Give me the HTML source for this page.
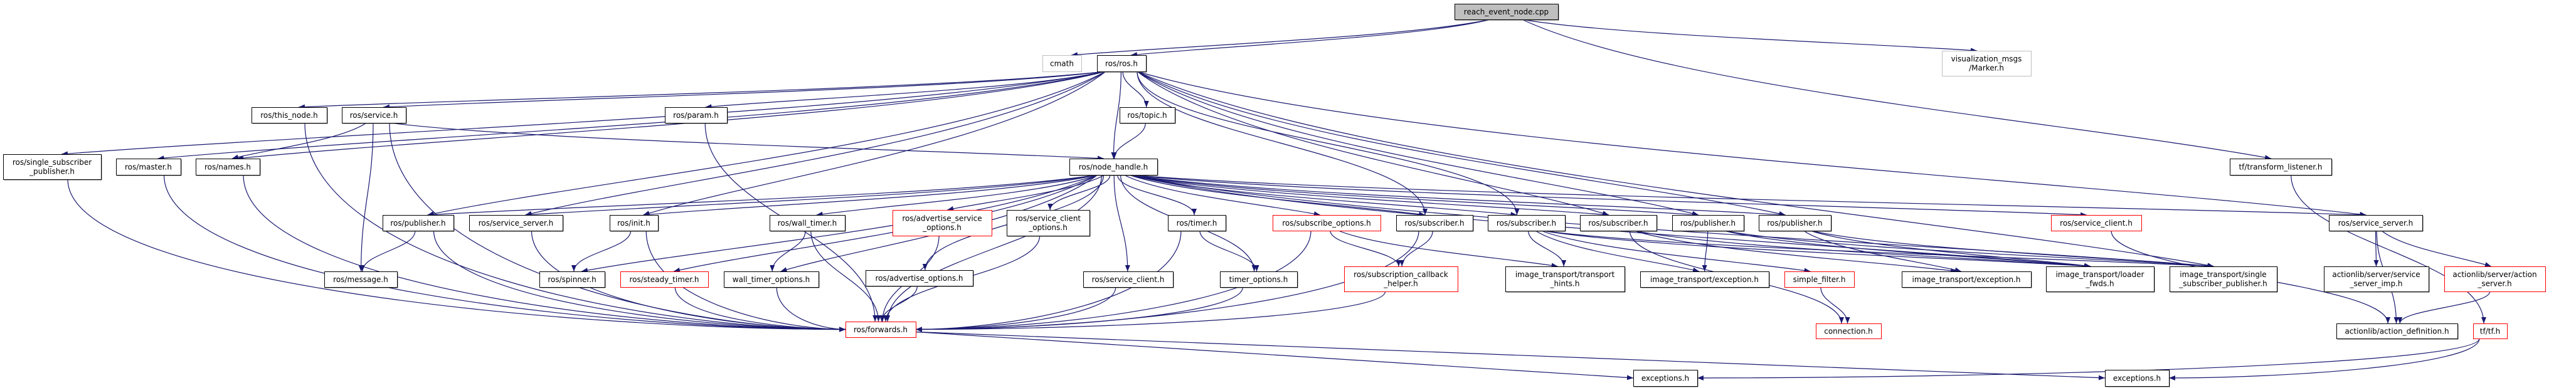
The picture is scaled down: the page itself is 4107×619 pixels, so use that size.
<!DOCTYPE html>
<html><head><meta charset="utf-8">
<style>
html,body{margin:0;padding:0;background:#fff;}
svg{display:block;}
text{font-family:"DejaVu Sans","Liberation Sans",sans-serif;font-size:12px;fill:#000;}
</style></head>
<body>
<svg id="g" xmlns="http://www.w3.org/2000/svg" width="4107" height="619" viewBox="0 0 4107 619">
<defs>
<marker id="a" markerUnits="userSpaceOnUse" markerWidth="11" markerHeight="9" refX="10" refY="4" orient="auto">
<path d="M0,0 L10,4 L0,8 z" fill="#191970"/>
</marker>
</defs>
<g id="edges"></g>
<g id="nodes"></g>
</svg>
<script>
var N={
cpp:[2319,2484,6,31,"reach_event_node.cpp","f"],
cmath:[1662,1724,88,114,"cmath","g"],
ros:[1749,1827,88,114,"ros/ros.h"],
marker:[3096,3238,81,121,"visualization_msgs|/Marker.h","g"],
tfl:[3555,3717,253,279,"tf/transform_listener.h"],
ssp:[5,161,246,286,"ros/single_subscriber|_publisher.h"],
master:[185,288,253,279,"ros/master.h"],
names:[312,414,253,279,"ros/names.h"],
thisnode:[401,521,171,196,"ros/this_node.h"],
service:[545,647,171,196,"ros/service.h"],
param:[1060,1159,171,196,"ros/param.h"],
topic:[1785,1873,171,196,"ros/topic.h"],
nh:[1705,1845,253,279,"ros/node_handle.h"],
pub1:[610,723,343,368,"ros/publisher.h"],
ss1:[748,897,343,368,"ros/service_server.h"],
init:[972,1049,343,368,"ros/init.h"],
wt:[1227,1347,343,368,"ros/wall_timer.h"],
aso:[1423,1581,335,376,"ros/advertise_service|_options.h","r"],
sco:[1605,1737,335,376,"ros/service_client|_options.h"],
timer:[1862,1954,343,368,"ros/timer.h"],
subo:[2029,2201,343,368,"ros/subscribe_options.h","r"],
sub1:[2226,2348,343,368,"ros/subscriber.h"],
sub2:[2372,2495,343,368,"ros/subscriber.h"],
sub3:[2519,2641,343,368,"ros/subscriber.h"],
pub2:[2666,2780,343,368,"ros/publisher.h"],
pub3:[2804,2919,343,368,"ros/publisher.h"],
sc2:[3270,3414,343,368,"ros/service_client.h","r"],
ss2:[3713,3862,343,368,"ros/service_server.h"],
msg:[517,633,433,458,"ros/message.h"],
spin:[860,964,433,458,"ros/spinner.h"],
steady:[989,1129,433,458,"ros/steady_timer.h","r"],
wto:[1154,1305,433,458,"wall_timer_options.h"],
ao:[1380,1551,431,456,"ros/advertise_options.h"],
sc1:[1727,1870,433,458,"ros/service_client.h"],
to:[1945,2068,433,458,"timer_options.h"],
sch:[2143,2324,425,465,"ros/subscription_callback|_helper.h","r"],
th:[2400,2590,425,465,"image_transport/transport|_hints.h"],
ite1:[2615,2820,433,458,"image_transport/exception.h"],
sf:[2845,2956,433,458,"simple_filter.h","r"],
ite2:[3032,3238,433,458,"image_transport/exception.h"],
lf:[3262,3434,425,465,"image_transport/loader|_fwds.h"],
sspi:[3459,3630,425,465,"image_transport/single|_subscriber_publisher.h"],
ssimp:[3705,3872,425,465,"actionlib/server/service|_server_imp.h"],
as:[3897,4058,425,465,"actionlib/server/action|_server.h","r"],
fwd:[1348,1460,513,538,"ros/forwards.h","r"],
conn:[2895,2999,516,540,"connection.h","r"],
ad:[3725,3918,516,540,"actionlib/action_definition.h"],
tf:[3943,3997,516,540,"tf/tf.h","r"],
exc1:[2604,2706,590,616,"exceptions.h"],
exc2:[3356,3458,590,616,"exceptions.h"]
};
var E="cpp>cmath cpp>ros cpp>marker cpp>tfl ros>ssp ros>master ros>names ros>thisnode ros>service ros>param ros>topic ros>nh ros>pub1 ros>ss1 ros>init ros>sub1 ros>sub2 ros>sub3 ros>pub2 ros>pub3 ros>ss2 ros>sspi service>names service>nh service>msg service>fwd thisnode>fwd master>fwd names>fwd ssp>fwd param>fwd topic>nh nh>pub1 nh>ss1 nh>init nh>spin nh>steady nh>wt nh>wto nh>aso nh>ao nh>sco nh>sc1 nh>timer nh>to nh>fwd nh>subo nh>sub1 nh>sub2 nh>sub3 nh>pub2 nh>pub3 nh>sc2 nh>ss2 nh>lf nh>sspi pub1>msg pub1>fwd ss1>fwd init>spin init>fwd wt>wto wt>fwd steady>fwd wto>fwd aso>fwd ao>fwd sco>fwd sc1>fwd timer>to timer>fwd to>fwd subo>sch subo>th subo>fwd sub1>sch sub1>fwd sch>fwd sub2>th sub2>ite1 sub2>lf sub2>sspi sub2>sf sub3>ite2 sub3>conn sub3>lf pub2>ite1 pub2>lf pub2>sspi pub3>ite2 pub3>lf pub3>sspi sf>conn sc2>ad ss2>ssimp ss2>as ss2>ad as>ad tfl>tf tf>exc1 tf>exc2 fwd>exc1 fwd>exc2".split(" ");
var SIDE={fwd:1,exc1:1,exc2:1};
var NS="http://www.w3.org/2000/svg";
function el(t,a){var e=document.createElementNS(NS,t);for(var k in a)e.setAttribute(k,a[k]);return e;}
var eg=document.getElementById("edges"),ng=document.getElementById("nodes");
E.forEach(function(s){
 var p=s.split(">"),A=N[p[0]],B=N[p[1]];
 var ax=(A[0]+A[1])/2,ay=(A[2]+A[3])/2,bx=(B[0]+B[1])/2,by=(B[2]+B[3])/2;
 var dx=bx-ax,dy=by-ay,d;
 var sx=ax+Math.max(-25,Math.min(25,dx*0.05)),sy=A[3];
 if(SIDE[p[1]]&&Math.abs(dx)>2.0*Math.abs(dy)){
  var tx=dx>0?B[0]:B[1],ty=by;
  if(p[0]=="fwd"){sx=A[1];sy=ay+4;d="M"+sx+","+sy+" L"+tx+","+ty;}
  else{
   if(p[0]=="tf"){sx=A[0]+10;}
   d="M"+sx+","+sy+" C"+sx+","+(sy+(ty-sy)*0.7)+" "+(tx-(tx-sx)*0.35)+","+ty+" "+tx+","+ty;
  }
 } else {
  var ty=B[2],tx=bx-Math.max(-15,Math.min(15,dx*0.03));
  if(Math.abs(tx-sx)>3*(ty-sy)){
   d="M"+sx+","+sy+" C"+(sx+(tx-sx)*0.2)+","+(sy+(ty-sy)*0.5)+" "+(tx-(tx-sx)*0.25)+","+(ty-(ty-sy)*0.25)+" "+tx+","+ty;
  } else {
   var h=(ty-sy)*0.45;
   d="M"+sx+","+sy+" C"+sx+","+(sy+h)+" "+tx+","+(ty-h)+" "+tx+","+ty;
  }
 }
 eg.appendChild(el("path",{d:d,fill:"none",stroke:"#191970","stroke-width":"1.2","marker-end":"url(#a)"}));
});
for(var k in N){
 var n=N[k],w=n[1]-n[0],h=n[3]-n[2],st=n[5];
 var stroke=st=="r"?"#ff0000":(st=="g"?"#bfbfbf":"#000");
 var fill=st=="f"?"#bfbfbf":"#fff";
 if(st!="g"&&st!="r")ng.appendChild(el("rect",{x:n[0]+1.5,y:n[2]+1.5,width:w,height:h,fill:"#666"}));
 ng.appendChild(el("rect",{x:n[0]+0.5,y:n[2]+0.5,width:w,height:h,fill:fill,stroke:stroke,"stroke-width":"1"}));
 var L=n[4].split("|"),cx=n[0]+w/2;
 L.forEach(function(t,i){
  var y=L.length==1?n[2]+h/2+4.5:n[2]+h/2+(i==0?-3:11.5);
  var te=el("text",{x:cx,y:y,"text-anchor":"middle"});te.textContent=t;ng.appendChild(te);
 });
}
</script>
</body></html>
